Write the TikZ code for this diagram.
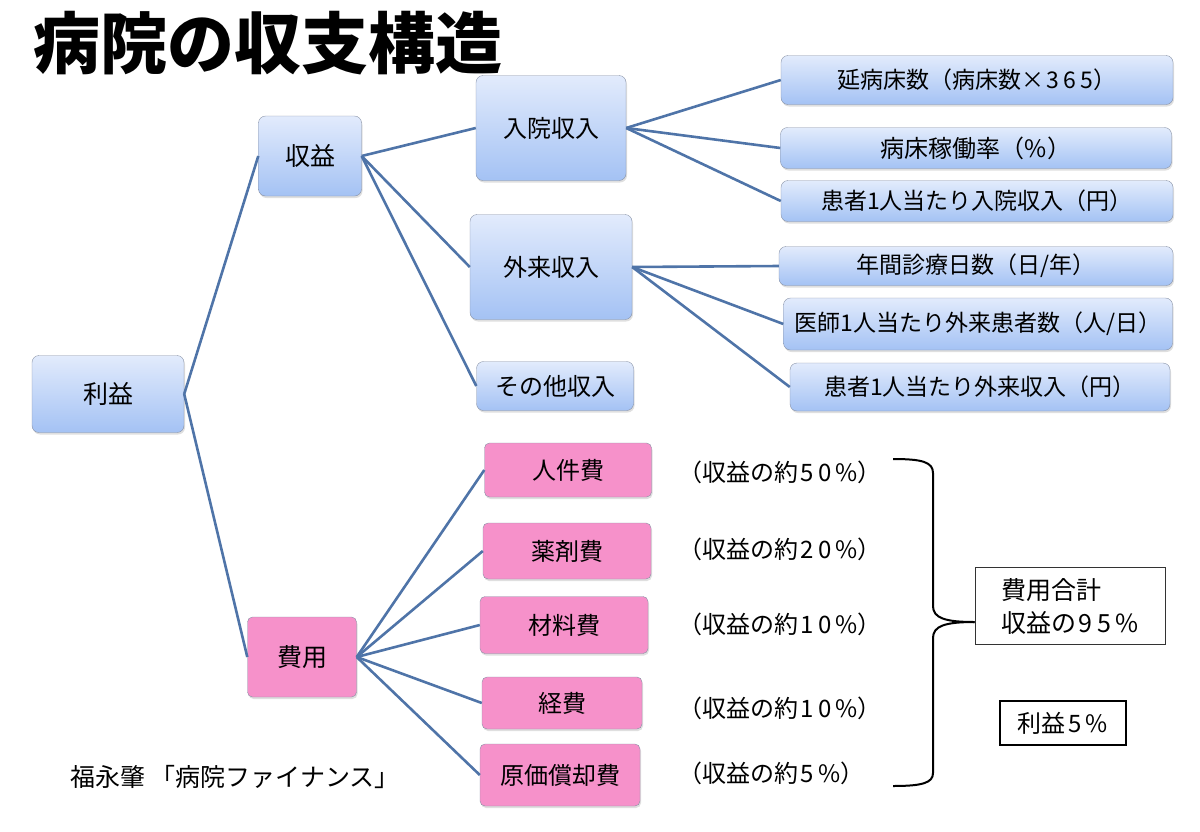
\documentclass[tikz,border=0pt]{standalone}
\usepackage{fontspec}
\setmainfont{Noto Sans CJK JP}
\usetikzlibrary{shadows}
\definecolor{linkblue}{RGB}{79,116,168}
\definecolor{boxtop}{RGB}{226,235,252}
\definecolor{boxbot}{RGB}{164,194,244}
\definecolor{costpink}{RGB}{246,145,202}
\definecolor{boxline}{RGB}{135,145,165}
\newcommand{\widenum}[1]{\hspace{0.1em}{\addfontfeature{LetterSpace=18}#1}}
\tikzset{
  revbox/.style={draw=boxline, rounded corners=7pt, top color=boxtop, bottom color=boxbot,
    drop shadow={opacity=0.25, shadow xshift=1pt, shadow yshift=-2pt}, inner sep=0pt},
  costbox/.style={draw=boxline, rounded corners=5pt, fill=costpink,
    drop shadow={opacity=0.25, shadow xshift=1pt, shadow yshift=-2pt}, inner sep=0pt,
    font=\fontsize{24}{28}\selectfont},
  pct/.style={anchor=west, inner sep=0pt, font=\fontsize{24}{28}\selectfont},
  link/.style={draw=linkblue, line width=2.6pt},
}
\begin{document}
\begin{tikzpicture}[x=1pt, y=-1pt]
\useasboundingbox (0,0) rectangle (1200,831);
% title
\node[anchor=west, inner sep=0pt, font=\fontsize{67}{72}\bfseries] (title) at (33,43) {病院の収支構造};

% revenue side
\node[revbox, minimum width=152pt, minimum height=77pt, font=\fontsize{25}{30}\selectfont] (rieki) at (108,394) {利益};
\node[revbox, minimum width=103pt, minimum height=80pt, font=\fontsize{25}{30}\selectfont] (shueki) at (310,156) {収益};
\node[revbox, minimum width=150pt, minimum height=105pt, font=\fontsize{24}{28}\selectfont] (nyuin) at (551,128) {入院収入};
\node[revbox, minimum width=162pt, minimum height=105pt, font=\fontsize{24}{28}\selectfont] (gairai) at (551,267) {外来収入};
\node[revbox, minimum width=157pt, minimum height=49pt, font=\fontsize{24}{28}\selectfont] (sonota) at (555,386) {その他収入};

\node[revbox, minimum width=392pt, minimum height=49pt, font=\fontsize{23}{27}\selectfont] (enbyo) at (977,80) {延病床数（病床数×\widenum{365}）};
\node[revbox, minimum width=391pt, minimum height=41pt, font=\fontsize{24}{28}\selectfont] (kado) at (976,148) {病床稼働率（\%）};
\node[revbox, minimum width=392pt, minimum height=41pt, font=\fontsize{23}{27}\selectfont] (nyutan) at (977,201) {患者1人当たり入院収入（円）};
\node[revbox, minimum width=394pt, minimum height=39pt, font=\fontsize{23}{27}\selectfont] (nissu) at (976,266) {年間診療日数（日/年）};
\node[revbox, minimum width=389pt, minimum height=52pt, font=\fontsize{23}{27}\selectfont] (ishi) at (978,324) {医師1人当たり外来患者数（人/日）};
\node[revbox, minimum width=380pt, minimum height=48pt, font=\fontsize{23}{27}\selectfont] (gaitan) at (980,387) {患者1人当たり外来収入（円）};

% cost side
\node[costbox, minimum width=109pt, minimum height=80pt, font=\fontsize{25}{30}\selectfont] (hiyo) at (302,657) {費用};
\node[costbox, minimum width=167pt, minimum height=54pt] (jinken) at (568,470) {人件費};
\node[costbox, minimum width=168pt, minimum height=56pt] (yakuzai) at (567,551) {薬剤費};
\node[costbox, minimum width=168pt, minimum height=57pt] (zairyo) at (564,625) {材料費};
\node[costbox, minimum width=160pt, minimum height=52pt] (keihi) at (562,703) {経費};
\node[costbox, minimum width=160pt, minimum height=62pt] (genka) at (560,775) {原価償却費};

\node[pct] (p50) at (678,472) {（収益の約\widenum{50\%}）};
\node[pct] (p20) at (678,549) {（収益の約\widenum{20\%}）};
\node[pct] (p10a) at (678,624) {（収益の約\widenum{10\%}）};
\node[pct] (p10b) at (678,708) {（収益の約\widenum{10\%}）};
\node[pct] (p5) at (678,773) {（収益の約\widenum{5\%}）};

\node[draw=black!80, line width=1pt, minimum width=190pt, minimum height=77pt, align=left,
  font=\fontsize{25}{33}\selectfont] (gokei) at (1070,606) {費用合計\\収益の\widenum{95\%}};
\node[draw, line width=2.2pt, minimum width=126pt, minimum height=44pt,
  font=\fontsize{24}{26}\selectfont] (rieki5) at (1063,723) {利益\widenum{5\%}};

\node[anchor=west, inner sep=0pt, font=\fontsize{25}{29}\selectfont] (source) at (70,777) {福永肇 「病院ファイナンス」};

% connectors
\foreach \a/\b in {rieki/shueki, rieki/hiyo, shueki/nyuin, shueki/gairai, shueki/sonota,
  nyuin/enbyo, nyuin/kado, nyuin/nyutan, gairai/nissu, gairai/ishi, gairai/gaitan,
  hiyo/jinken, hiyo/yakuzai, hiyo/zairyo, hiyo/keihi, hiyo/genka}
  \draw[link] (\a.east) -- (\b.west);

% brace
\coordinate (tip) at (gokei.west |- 0,622);
\draw[line width=2pt] (893,459) .. controls (922,459) and (933,462) .. (933,473) -- (933,606)
  .. controls (933,618) and (945,622) .. (tip);
\draw[line width=2pt] (tip) .. controls (945,622) and (933,626) .. (933,638) -- (933,773)
  .. controls (933,783) and (922,786) .. (893,786);
\end{tikzpicture}
\end{document}
